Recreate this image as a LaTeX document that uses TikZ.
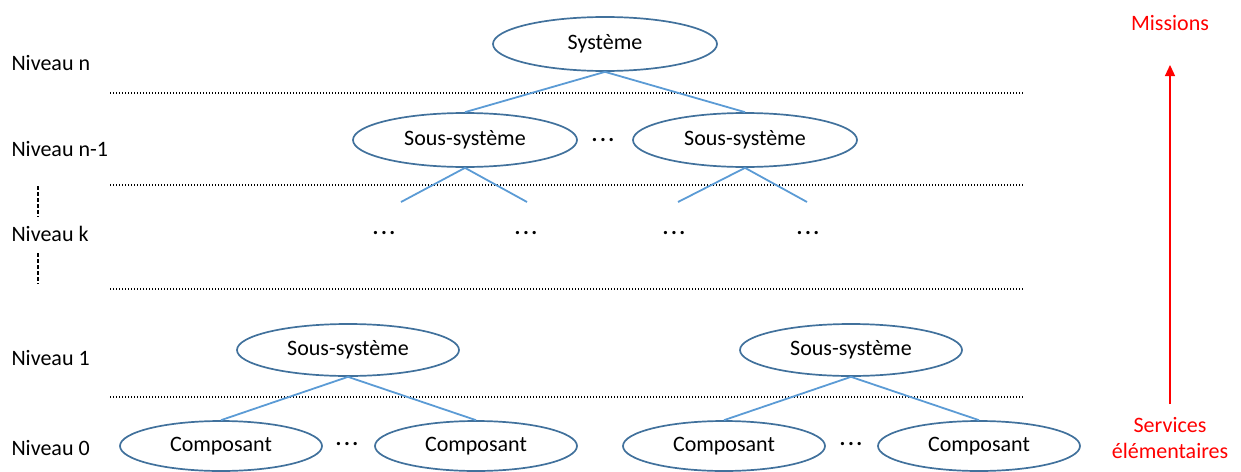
\documentclass[tikz,border=0pt]{standalone}
\usepackage{fontspec}
\setmainfont{Carlito}
\usetikzlibrary{shapes.geometric,arrows.meta}
\definecolor{outline}{RGB}{65,113,156}
\definecolor{link}{RGB}{91,155,213}
\newcommand{\Niv}[1]{Niveau #1}
\newcommand{\Dts}{\textbf{.\kern2.5pt.\kern2.5pt.}}

\begin{document}
\begin{tikzpicture}[
      x=1pt, y=-1pt,
      font=\fontsize{22}{26}\selectfont,
      block/.style={draw=outline,line width=1.7pt,ellipse,inner sep=0pt,minimum width=224pt,minimum height=54pt},
      part/.style={block,minimum width=202pt,minimum height=50pt},
      branch/.style={draw=link,line width=1.8pt},
      layer/.style={line width=1.3pt,dash pattern=on 1.3pt off 1.7pt},
      gap/.style={line width=1.5pt,dash pattern=on 4pt off 2pt},
      lvl/.style={anchor=west},
      goal/.style={text=red,align=center},
      up/.style={red,line width=1.2pt,-{Triangle[length=11pt,width=10pt]}}
    ]
    \useasboundingbox (0,0) rectangle (1241,471);
    % Level names on the left.
    \node[lvl] (ln)  at (8,63)  {\Niv{n}};
    \node[lvl] (ln1) at (8,149) {\Niv{n-1}};
    \node[lvl] (lk)  at (8,234) {\Niv{k}};
    \node[lvl] (l1)  at (8,358) {\Niv{1}};
    \node[lvl] (l0)  at (8,448) {\Niv{0}};
    \draw[gap] (38,186) -- (38,217);
    \draw[gap] (38,253) -- (38,284);
    % Separating lines.
    \foreach \y in {93,185,289,397}
      \draw[layer] (110,\y) -- (1024,\y);
    % Top of the tree.
    \node[block] (sys) at (605,44) {Système};
    \node[block] (ssa) at (465,140) {Sous-système};
    \node[block] (ssb) at (745,140) {Sous-système};
    \node (dab) at (603,140) {\Dts};
    \draw[branch] (sys.south) -- (ssa.north);
    \draw[branch] (sys.south) -- (ssb.north);
    % Loose branches towards level k.
    \coordinate (ka) at (401,202);
    \coordinate (kb) at (527,202);
    \coordinate (kc) at (678,202);
    \coordinate (kd) at (807,202);
    \draw[branch] (ssa.south) -- (ka);
    \draw[branch] (ssa.south) -- (kb);
    \draw[branch] (ssb.south) -- (kc);
    \draw[branch] (ssb.south) -- (kd);
    \foreach \x/\n in {384/a,526/b,674/c,808/d}
      \node (dk\n) at (\x,233) {\Dts};
    % Bottom of the tree.
    \node[block,minimum width=222pt,minimum height=52pt] (sbl) at (348,350) {Sous-système};
    \node[block,minimum width=222pt,minimum height=52pt] (sbr) at (851,350) {Sous-système};
    \node[part] (ca) at (221,446) {Composant};
    \node[part] (cb) at (476,446) {Composant};
    \node[part] (cc) at (724,446) {Composant};
    \node[part] (cd) at (979,446) {Composant};
    \node (dl) at (347,444) {\Dts};
    \node (dr) at (851,444) {\Dts};
    \draw[branch] (sbl.south) -- (ca.north);
    \draw[branch] (sbl.south) -- (cb.north);
    \draw[branch] (sbr.south) -- (cc.north);
    \draw[branch] (sbr.south) -- (cd.north);
    % From services to missions.
    \node[goal] (miss) at (1170,23) {Missions};
    \node[goal] (serv) at (1170,438) {Services\\élémentaires};
    \coordinate (from) at (1170,404);
    \coordinate (to) at (1170,65);
    \draw[up] (from) -- (to);
\end{tikzpicture}
\end{document}
